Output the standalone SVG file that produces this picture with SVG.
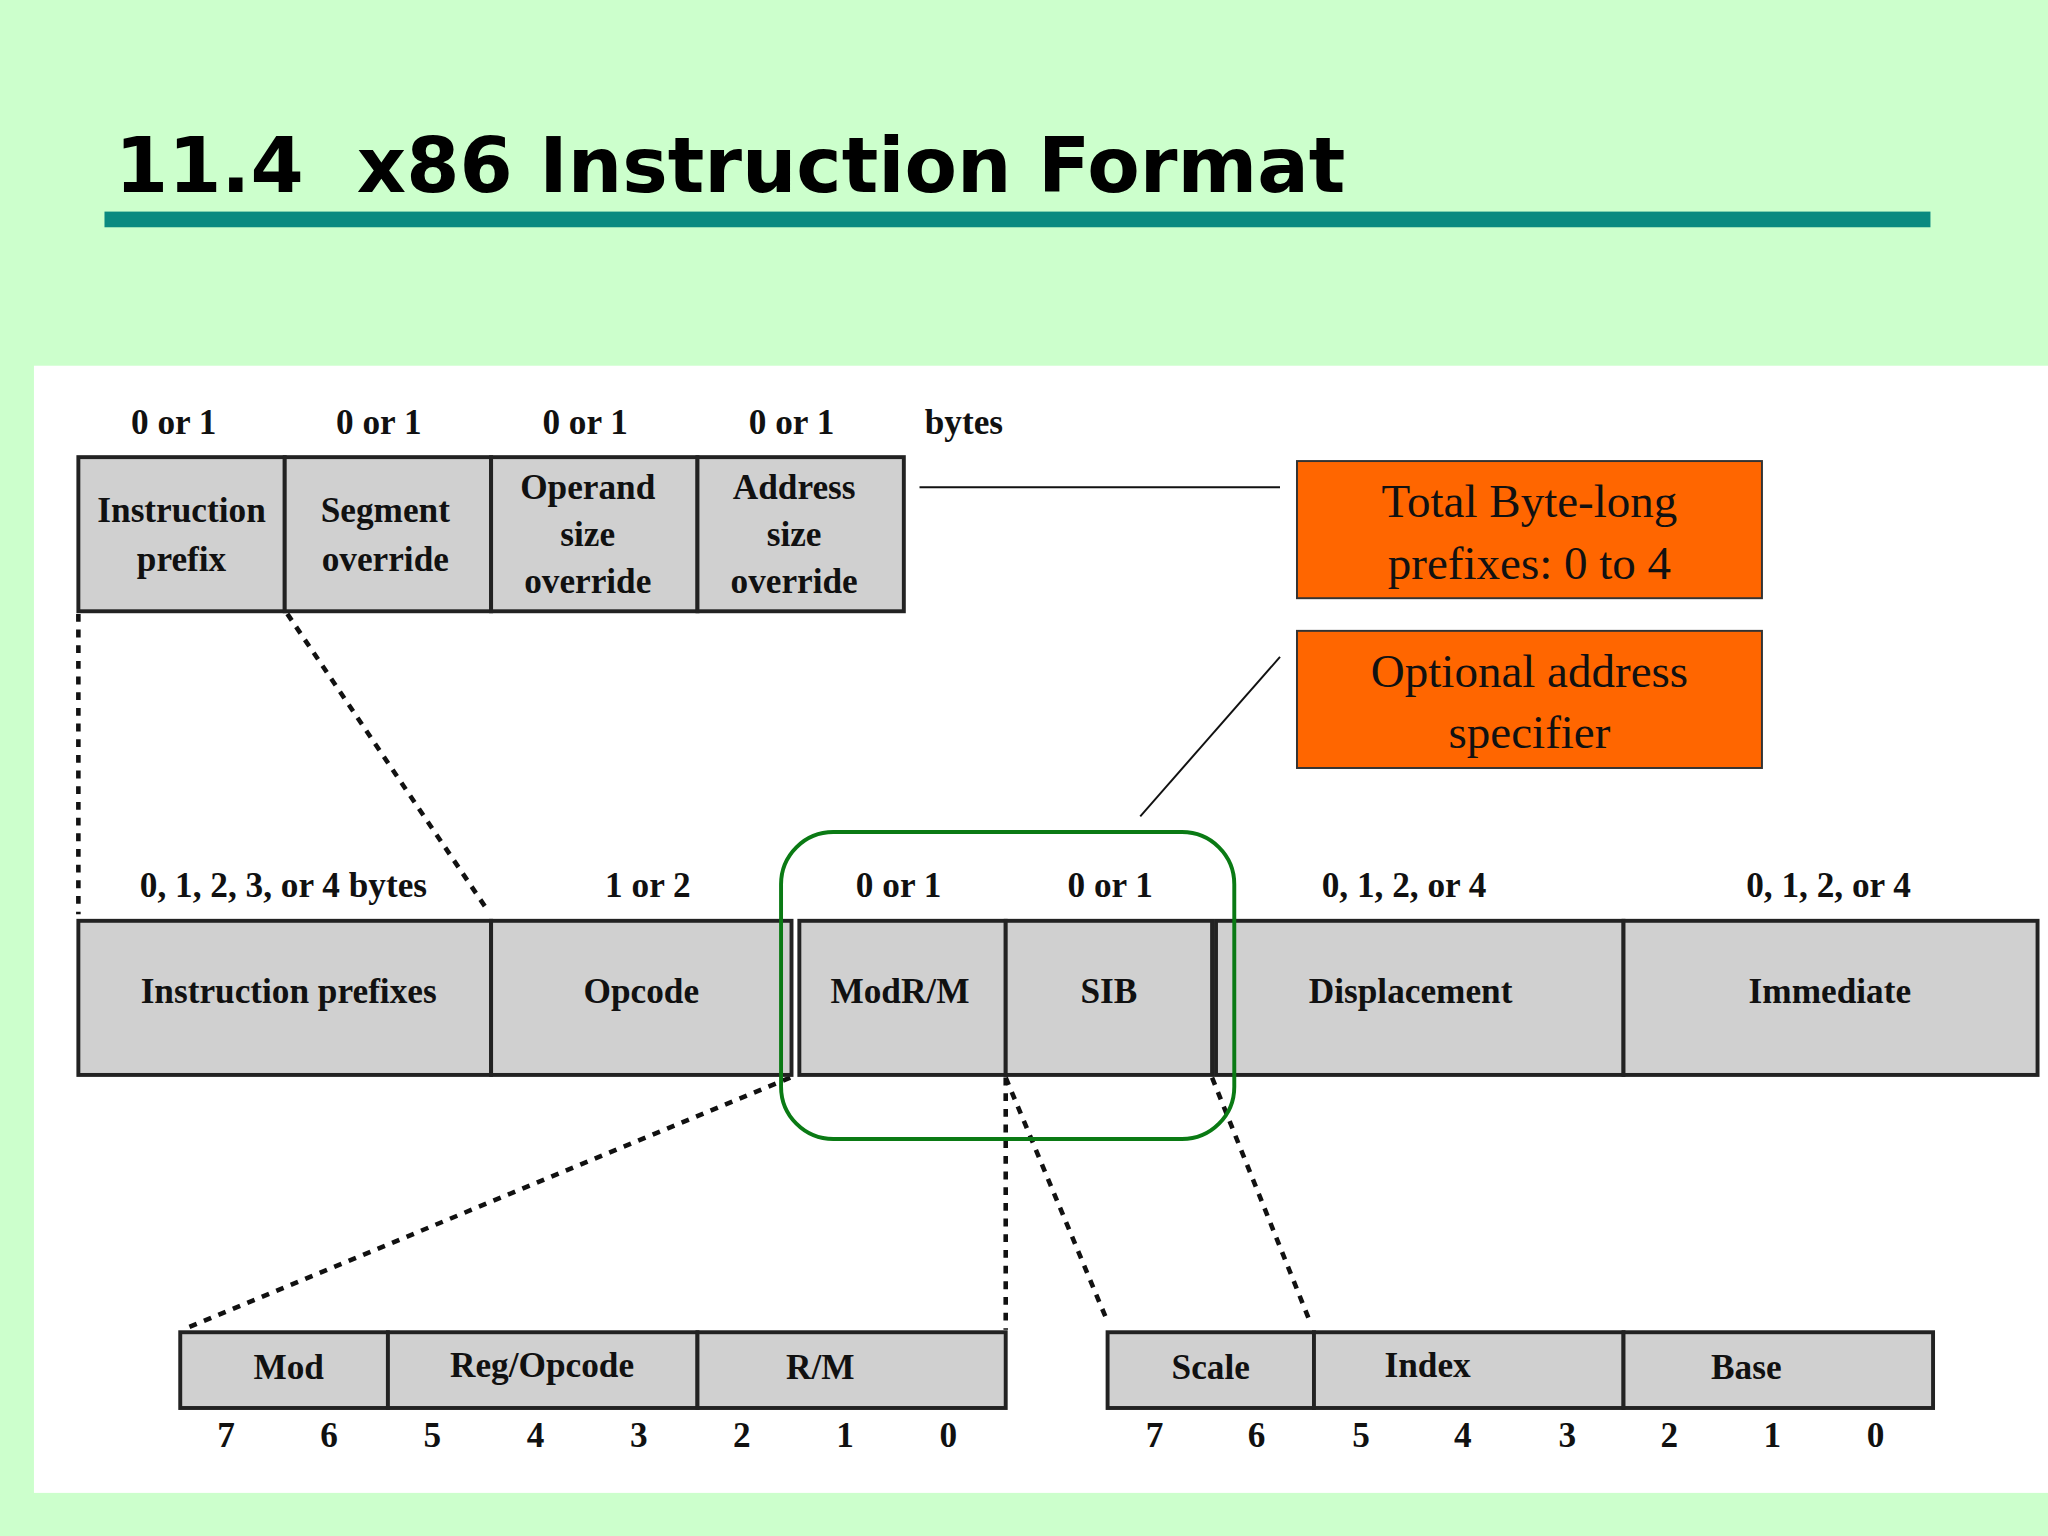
<svg xmlns="http://www.w3.org/2000/svg" width="2048" height="1536" viewBox="0 0 2048 1536">
<style>
.b{fill:#d0d0d0;stroke:#222;stroke-width:3}
.t{font-family:"Liberation Serif",serif;font-weight:bold;font-size:27px;fill:#111;text-anchor:middle}
.o{fill:#ff6600;stroke:#333;stroke-width:1.5}
.ot{font-family:"Liberation Serif",serif;font-size:36px;fill:#111;text-anchor:middle}
.d{stroke:#111;stroke-width:3.5;stroke-dasharray:6 6;fill:none}
.l{stroke:#111;stroke-width:1.5;fill:none}
</style>
<rect width="2048" height="1536" fill="#ccffcc"/>
<g transform="scale(1.30612)">
<text x="88" y="147" font-family="DejaVu Sans,Verdana,sans-serif" font-weight="bold" font-size="58" fill="#000" xml:space="preserve" textLength="942" lengthAdjust="spacingAndGlyphs">11.4  x86 Instruction Format</text>
<rect x="80" y="162" width="1398" height="12" fill="#0a8a80"/>
<rect x="26" y="280" width="1542" height="863" fill="#fff"/>
<g id="connectors">
<line class="l" x1="704" y1="373" x2="980" y2="373"/>
<line class="l" x1="980" y1="503" x2="873" y2="625"/>
<path class="d" d="M60 470V700M220 470L372 695M605 825L140 1018M770 825V1018M770 825L848 1012M928 825L1003 1012"/>
</g>
<g id="prefix">
<text class="t" x="133" y="332">0 or 1</text><text class="t" x="290" y="332">0 or 1</text><text class="t" x="448" y="332">0 or 1</text><text class="t" x="606" y="332">0 or 1</text><text class="t" x="738" y="332">bytes</text>
<rect class="b" x="60" y="350" width="158" height="118"/><rect class="b" x="218" y="350" width="158" height="118"/><rect class="b" x="376" y="350" width="158" height="118"/><rect class="b" x="534" y="350" width="158" height="118"/>
<text class="t" x="139" y="400">Instruction</text><text class="t" x="139" y="437">prefix</text>
<text class="t" x="295" y="400">Segment</text><text class="t" x="295" y="437">override</text>
<text class="t" x="450" y="382">Operand</text><text class="t" x="450" y="418">size</text><text class="t" x="450" y="454">override</text>
<text class="t" x="608" y="382">Address</text><text class="t" x="608" y="418">size</text><text class="t" x="608" y="454">override</text>
</g>
<g id="note1"><rect class="o" x="993" y="353" width="356" height="105"/><text class="ot" x="1171" y="396">Total Byte-long</text><text class="ot" x="1171" y="443">prefixes: 0 to 4</text></g>
<g id="note2"><rect class="o" x="993" y="483" width="356" height="105"/><text class="ot" x="1171" y="526">Optional address</text><text class="ot" x="1171" y="573">specifier</text></g>
<g id="main">
<text class="t" x="217" y="687">0, 1, 2, 3, or 4 bytes</text><text class="t" x="496" y="687">1 or 2</text><text class="t" x="688" y="687">0 or 1</text><text class="t" x="850" y="687">0 or 1</text><text class="t" x="1075" y="687">0, 1, 2, or 4</text><text class="t" x="1400" y="687">0, 1, 2, or 4</text>
<rect class="b" x="60" y="705" width="316" height="118"/><rect class="b" x="376" y="705" width="230" height="118"/><rect class="b" x="612" y="705" width="158" height="118"/><rect class="b" x="770" y="705" width="158" height="118"/><rect class="b" x="931" y="705" width="312" height="118"/><rect class="b" x="1243" y="705" width="317" height="118"/>
<text class="t" x="221" y="768">Instruction prefixes</text><text class="t" x="491" y="768">Opcode</text><text class="t" x="689" y="768">ModR/M</text><text class="t" x="849" y="768">SIB</text><text class="t" x="1080" y="768">Displacement</text><text class="t" x="1401" y="768">Immediate</text>
</g>
<rect id="highlight" x="598" y="637" width="347" height="235" rx="40" fill="none" stroke="#0a7a14" stroke-width="3"/>
<g id="modrm">
<rect class="b" x="138" y="1020" width="159" height="58"/><rect class="b" x="297" y="1020" width="237" height="58"/><rect class="b" x="534" y="1020" width="236" height="58"/>
<text class="t" x="221" y="1056">Mod</text><text class="t" x="415" y="1054">Reg/Opcode</text><text class="t" x="628" y="1056">R/M</text>
<g class="t" font-size="22"><text x="173" y="1108">7</text><text x="252" y="1108">6</text><text x="331" y="1108">5</text><text x="410" y="1108">4</text><text x="489" y="1108">3</text><text x="568" y="1108">2</text><text x="647" y="1108">1</text><text x="726" y="1108">0</text></g>
</g>
<g id="sib">
<rect class="b" x="848" y="1020" width="158" height="58"/><rect class="b" x="1006" y="1020" width="237" height="58"/><rect class="b" x="1243" y="1020" width="237" height="58"/>
<text class="t" x="927" y="1056">Scale</text><text class="t" x="1093" y="1054">Index</text><text class="t" x="1337" y="1056">Base</text>
<g class="t" font-size="22"><text x="884" y="1108">7</text><text x="962" y="1108">6</text><text x="1042" y="1108">5</text><text x="1120" y="1108">4</text><text x="1200" y="1108">3</text><text x="1278" y="1108">2</text><text x="1357" y="1108">1</text><text x="1436" y="1108">0</text></g>
</g>
</g>
</svg>
